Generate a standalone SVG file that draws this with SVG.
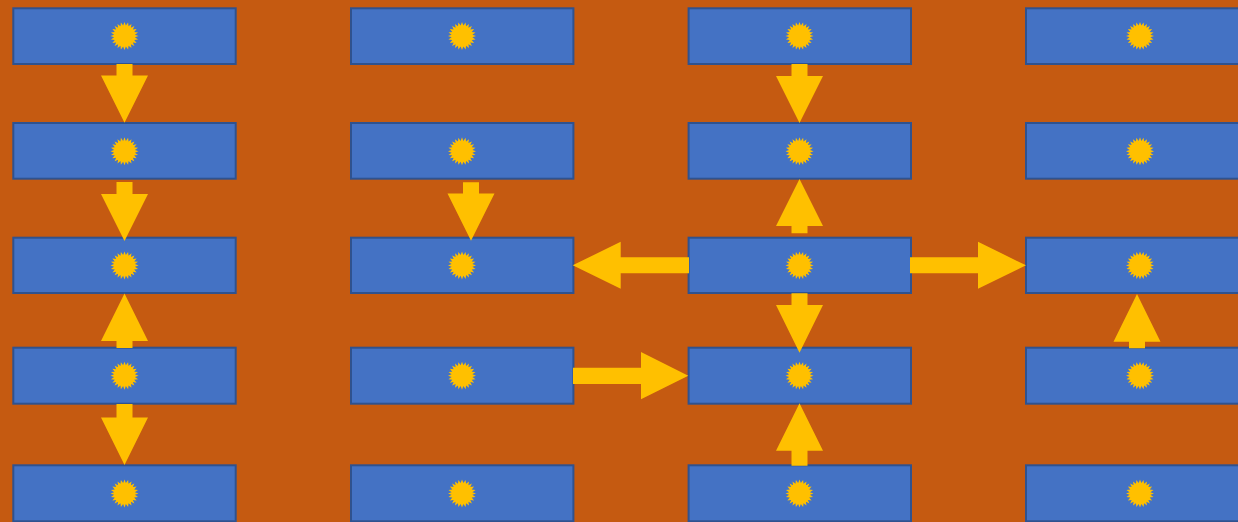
<svg xmlns="http://www.w3.org/2000/svg" xmlns:xlink="http://www.w3.org/1999/xlink" width="1238" height="522" viewBox="0 0 1238 522">
<style>
.box{fill:#4472C4;stroke:#2F528F;stroke-width:2}
.star{fill:#FFC000}
.arr{fill:#FFC000;stroke:none}
</style>
<defs>
<polygon id="sun" class="star" points="14,0 10.41,1.37 13.52,3.62 9.7,4.02 12.12,7 8.33,6.39 9.9,9.9 6.39,8.33 7,12.12 4.02,9.7 3.62,13.52 1.37,10.41 0,14 -1.37,10.41 -3.62,13.52 -4.02,9.7 -7,12.12 -6.39,8.33 -9.9,9.9 -8.33,6.39 -12.12,7 -9.7,4.02 -13.52,3.62 -10.41,1.37 -14,0 -10.41,-1.37 -13.52,-3.62 -9.7,-4.02 -12.12,-7 -8.33,-6.39 -9.9,-9.9 -6.39,-8.33 -7,-12.12 -4.02,-9.7 -3.62,-13.52 -1.37,-10.41 0,-14 1.37,-10.41 3.62,-13.52 4.02,-9.7 7,-12.12 6.39,-8.33 9.9,-9.9 8.33,-6.39 12.12,-7 9.7,-4.02 13.52,-3.62 10.41,-1.37"/>
</defs>
<rect x="0" y="0" width="1238" height="522" fill="#C55A11"/>
<g id="nodes">
<g id="n-1-1"><rect class="box" x="13.3" y="8.3" width="222.4" height="55.7"/><use href="#sun" xlink:href="#sun" x="124.5" y="36"/></g>
<g id="n-1-2"><rect class="box" x="351" y="8.3" width="222.4" height="55.7"/><use href="#sun" xlink:href="#sun" x="462" y="36"/></g>
<g id="n-1-3"><rect class="box" x="688.6" y="8.3" width="222.4" height="55.7"/><use href="#sun" xlink:href="#sun" x="799.5" y="36"/></g>
<g id="n-1-4"><rect class="box" x="1026" y="8.3" width="240" height="55.7"/><use href="#sun" xlink:href="#sun" x="1140" y="36"/></g>

<g id="n-2-1"><rect class="box" x="13.3" y="123" width="222.4" height="55.7"/><use href="#sun" xlink:href="#sun" x="124.5" y="151.3"/></g>
<g id="n-2-2"><rect class="box" x="351" y="123" width="222.4" height="55.7"/><use href="#sun" xlink:href="#sun" x="462" y="151.3"/></g>
<g id="n-2-3"><rect class="box" x="688.6" y="123" width="222.4" height="55.7"/><use href="#sun" xlink:href="#sun" x="799.5" y="151.3"/></g>
<g id="n-2-4"><rect class="box" x="1026" y="123" width="240" height="55.7"/><use href="#sun" xlink:href="#sun" x="1140" y="151.3"/></g>

<g id="n-3-1"><rect class="box" x="13.3" y="237.7" width="222.4" height="55.3"/><use href="#sun" xlink:href="#sun" x="124.5" y="265.4"/></g>
<g id="n-3-2"><rect class="box" x="351" y="237.7" width="222.4" height="55.3"/><use href="#sun" xlink:href="#sun" x="462" y="265.4"/></g>
<g id="n-3-3"><rect class="box" x="688.6" y="237.7" width="222.4" height="55.3"/><use href="#sun" xlink:href="#sun" x="799.5" y="265.4"/></g>
<g id="n-3-4"><rect class="box" x="1026" y="237.7" width="240" height="55.3"/><use href="#sun" xlink:href="#sun" x="1140" y="265.4"/></g>

<g id="n-4-1"><rect class="box" x="13.3" y="347.7" width="222.4" height="56"/><use href="#sun" xlink:href="#sun" x="124.5" y="375.7"/></g>
<g id="n-4-2"><rect class="box" x="351" y="347.7" width="222.4" height="56"/><use href="#sun" xlink:href="#sun" x="462" y="375.7"/></g>
<g id="n-4-3"><rect class="box" x="688.6" y="347.7" width="222.4" height="56"/><use href="#sun" xlink:href="#sun" x="799.5" y="375.7"/></g>
<g id="n-4-4"><rect class="box" x="1026" y="347.7" width="240" height="56"/><use href="#sun" xlink:href="#sun" x="1140" y="375.7"/></g>

<g id="n-5-1"><rect class="box" x="13.3" y="465.3" width="222.4" height="56"/><use href="#sun" xlink:href="#sun" x="124.5" y="493.5"/></g>
<g id="n-5-2"><rect class="box" x="351" y="465.3" width="222.4" height="56"/><use href="#sun" xlink:href="#sun" x="462" y="493.5"/></g>
<g id="n-5-3"><rect class="box" x="688.6" y="465.3" width="222.4" height="56"/><use href="#sun" xlink:href="#sun" x="799.5" y="493.5"/></g>
<g id="n-5-4"><rect class="box" x="1026" y="465.3" width="240" height="56"/><use href="#sun" xlink:href="#sun" x="1140" y="493.5"/></g>
</g>
<g id="connectors">
<path class="arr" d="M116.5 64 H132.5 V75.5 H148 L124.5 122.7 L101 75.5 H116.5 Z"/>
<path class="arr" d="M116.5 182 H132.5 V194 H148 L124.5 241 L101 194 H116.5 Z"/>
<path class="arr" d="M116.5 348 H132.5 V341 H148 L124.5 293.5 L101 341 H116.5 Z"/>
<path class="arr" d="M116.5 404 H132.5 V417.5 H148 L124.5 465 L101 417.5 H116.5 Z"/>
<path class="arr" d="M463 182.3 H479 V193.5 H494.5 L471 240.7 L447.5 193.5 H463 Z"/>
<path class="arr" d="M573 367.7 H641 V352 L688.3 375.7 L641 399.3 V384 H573 Z"/>
<path class="arr" d="M791.5 64 H807.5 V76 H823 L799.5 123 L776 76 H791.5 Z"/>
<path class="arr" d="M791.5 233.3 H807.5 V226 H823 L799.5 179 L776 226 H791.5 Z"/>
<path class="arr" d="M689 257.3 H620.7 V241.8 L572.7 265.3 L620.7 288.8 V273.3 H689 Z"/>
<path class="arr" d="M910 257.3 H978 V241.8 L1026 265.3 L978 288.8 V273.3 H910 Z"/>
<path class="arr" d="M791.5 293.3 H807.5 V305 H823 L799.5 352.7 L776 305 H791.5 Z"/>
<path class="arr" d="M791.5 465.7 H807.5 V450.7 H823 L799.5 403.3 L776 450.7 H791.5 Z"/>
<path class="arr" d="M1129 348.3 H1145 V341.7 H1160.5 L1137 294 L1113.5 341.7 H1129 Z"/>
</g>
</svg>
